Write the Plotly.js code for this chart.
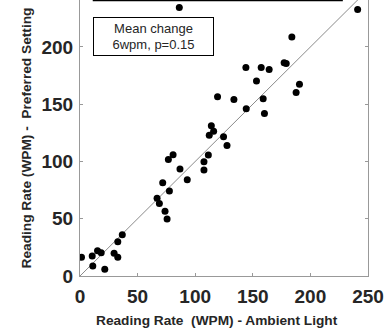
<!DOCTYPE html>
<html>
<head>
<meta charset="utf-8">
<script src="https://cdn.plot.ly/plotly-3.0.1.min.js"></script>
<style>html,body{margin:0;padding:0;background:#fff;}#chart{width:387px;height:329px;}</style>
</head>
<body>
<div id="chart"></div>
<script>
// Reading rate (WPM) under ambient light vs. preferred setting
var ambientLight = [86.2, 241, 183.9, 144, 157.3, 164.2, 177.2, 179, 153.2, 190.5, 187.6, 119.4, 133.6, 159, 144.3, 160.1,
  114, 116, 112.2, 124.6, 127.6, 111.4, 107.6, 107.6, 80.8, 76.7, 86.8, 93.1, 71.8, 77.6, 66.9, 68.9, 73.8, 75.6,
  36.7, 32.8, 1.3, 10.6, 15.2, 18.4, 29.6, 32.8, 11.1, 21.5];
var preferredSetting = [234.4, 232.7, 208.8, 182, 182, 180.4, 186.1, 185.6, 170.2, 167.5, 160.3, 156.5, 154.2, 154.7, 146, 142,
  131.2, 126.5, 123, 121.6, 114, 105.6, 99.7, 92.5, 105.8, 101.8, 93.4, 84, 81.4, 74.2, 67.8, 63.4, 56.5, 49.7,
  36.1, 29.9, 16.3, 17.5, 22.1, 20.3, 19.8, 16.3, 8.7, 5.8];
var identityLine = [0, 250];
var tickValues = [0, 50, 100, 150, 200, 250];
var tickLabels = ['0', '50', '100', '150', '200', '250'];
var xTitle = 'Reading Rate&nbsp; (WPM) - Ambient Light';
var yTitle = 'Reading Rate (WPM) -&nbsp; Preferred Setting';
var noteText = 'Mean change<br>6wpm, p=0.15';

var FONT = 'Liberation Sans, Arial, Helvetica, sans-serif';

var traces = [
  {x: identityLine, y: identityLine, mode: 'lines', line: {color: '#8a8a8a', width: 1}, hoverinfo: 'skip', showlegend: false},
  {x: ambientLight, y: preferredSetting, mode: 'markers', marker: {color: '#000', size: 7}, showlegend: false}
];

var axisCommon = {
  tickvals: tickValues, ticktext: tickLabels,
  ticks: 'inside', ticklen: 3, tickwidth: 1, tickcolor: '#999',
  showline: true, linecolor: '#999', linewidth: 1,
  showgrid: false, zeroline: false,
  tickfont: {family: FONT, size: 19, color: '#262626', weight: 'bold'}
};

var layout = {
  width: 387, height: 329,
  margin: {l: 79.5, r: 19, t: 0, b: 53},
  paper_bgcolor: '#fff', plot_bgcolor: '#fff',
  xaxis: Object.assign({}, axisCommon, {range: [0, 250], mirror: false, ticklabelstandoff: 3}),
  yaxis: Object.assign({}, axisCommon, {range: [0, 241], mirror: 'ticks', ticklabelstandoff: 2}),
  shapes: [
    {type: 'rect', xref: 'x', yref: 'paper', x0: 11.7, x1: 227.5, y0: 0.998, y1: 1.2,
     line: {color: '#000', width: 1.5}, fillcolor: 'rgba(0,0,0,0)'}
  ],
  annotations: [
    {text: noteText, xref: 'paper', yref: 'paper', x: 0.254, y: 0.8685, xanchor: 'center', yanchor: 'middle',
     showarrow: false, font: {family: FONT, size: 13, color: '#262626'}, bgcolor: '#fff',
     bordercolor: '#000', borderwidth: 1, width: 117, height: 35, align: 'center'},
    {text: '<b>' + xTitle + '</b>', xref: 'paper', yref: 'paper', x: 0.476, y: -0.162, xanchor: 'center', yanchor: 'middle',
     showarrow: false, font: {family: FONT, size: 13.7, color: '#262626'}},
    {text: '<b>' + yTitle + '</b>', xref: 'paper', yref: 'paper', x: -0.186, y: 0.5, xanchor: 'center', yanchor: 'middle',
     textangle: -90, showarrow: false, font: {family: FONT, size: 13.7, color: '#262626'}}
  ]
};

Plotly.newPlot('chart', traces, layout, {displayModeBar: false, staticPlot: true});
</script>
</body>
</html>
